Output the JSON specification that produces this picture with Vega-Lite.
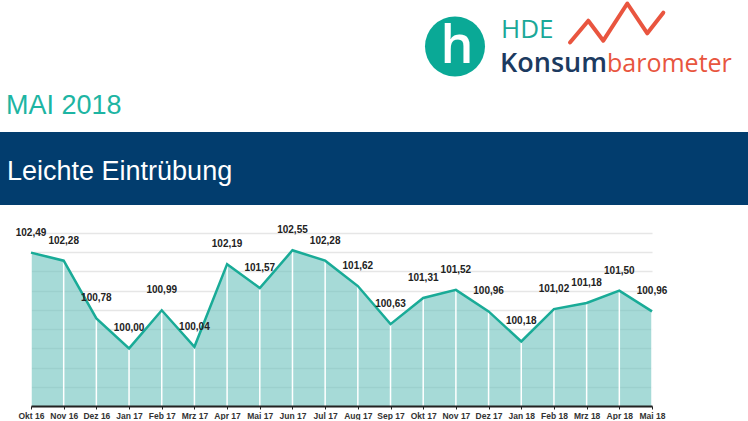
{
  "$schema": "https://vega.github.io/schema/vega-lite/v6.json",
  "padding": 0,
  "background": "white",
  "spacing": 27,
  "bounds": "flush",
  "center": true,
  "config": {
    "view": {"stroke": null},
    "locale": {"number": {"decimal": ",", "thousands": ".", "grouping": [3], "currency": ["", " €"]}}
  },
  "datasets": {
    "werte": [
      {"monat": "Okt 16", "wert": 102.49},
      {"monat": "Nov 16", "wert": 102.28},
      {"monat": "Dez 16", "wert": 100.78},
      {"monat": "Jan 17", "wert": 100.00},
      {"monat": "Feb 17", "wert": 100.99},
      {"monat": "Mrz 17", "wert": 100.04},
      {"monat": "Apr 17", "wert": 102.19},
      {"monat": "Mai 17", "wert": 101.57},
      {"monat": "Jun 17", "wert": 102.55},
      {"monat": "Jul 17", "wert": 102.28},
      {"monat": "Aug 17", "wert": 101.62},
      {"monat": "Sep 17", "wert": 100.63},
      {"monat": "Okt 17", "wert": 101.31},
      {"monat": "Nov 17", "wert": 101.52},
      {"monat": "Dez 17", "wert": 100.96},
      {"monat": "Jan 18", "wert": 100.18},
      {"monat": "Feb 18", "wert": 101.02},
      {"monat": "Mrz 18", "wert": 101.18},
      {"monat": "Apr 18", "wert": 101.50},
      {"monat": "Mai 18", "wert": 100.96}
    ]
  },
  "vconcat": [
    {
      "width": 683,
      "height": 206,
      "layer": [
        {
          "data": {"values": [{"x0": 0, "x1": 748, "y0": 132, "y1": 205}]},
          "mark": {"type": "rect", "color": "#023d6e"},
          "encoding": {
            "x": {"field": "x0", "type": "quantitative", "scale": {"domain": [0, 683], "nice": false, "zero": false}, "axis": null},
            "x2": {"field": "x1"},
            "y": {"field": "y0", "type": "quantitative", "scale": {"domain": [0, 206], "nice": false, "zero": false, "reverse": true}, "axis": null},
            "y2": {"field": "y1"}
          }
        },
        {
          "data": {"values": [{"x": 455, "y": 46.5}]},
          "mark": {"type": "point", "shape": "circle", "filled": true, "size": 3600, "color": "#0aa996", "opacity": 1},
          "encoding": {
            "x": {"field": "x", "type": "quantitative", "scale": {"domain": [0, 683], "nice": false, "zero": false}, "axis": null},
            "y": {"field": "y", "type": "quantitative", "scale": {"domain": [0, 206], "nice": false, "zero": false, "reverse": true}, "axis": null}
          }
        },
        {
          "data": {"values": [{"x": 457, "y": 63, "t": "h"}]},
          "mark": {"type": "text", "font": "Open Sans", "fontWeight": 600, "fontSize": 52, "color": "white", "align": "center", "baseline": "alphabetic"},
          "encoding": {
            "x": {"field": "x", "type": "quantitative", "scale": {"domain": [0, 683], "nice": false, "zero": false}, "axis": null},
            "y": {"field": "y", "type": "quantitative", "scale": {"domain": [0, 206], "nice": false, "zero": false, "reverse": true}, "axis": null},
            "text": {"field": "t"}
          }
        },
        {
          "data": {"values": [{"x": 501, "y": 37.5, "t": "HDE"}]},
          "mark": {"type": "text", "font": "Open Sans", "fontSize": 26, "color": "#1aa898", "align": "left", "baseline": "alphabetic"},
          "encoding": {
            "x": {"field": "x", "type": "quantitative", "scale": {"domain": [0, 683], "nice": false, "zero": false}, "axis": null},
            "y": {"field": "y", "type": "quantitative", "scale": {"domain": [0, 206], "nice": false, "zero": false, "reverse": true}, "axis": null},
            "text": {"field": "t"}
          }
        },
        {
          "data": {"values": [{"x": 607, "y": 71.5, "t": "Konsum"}]},
          "mark": {"type": "text", "font": "Open Sans", "fontWeight": 600, "fontSize": 27, "color": "#1c3a60", "align": "right", "baseline": "alphabetic"},
          "encoding": {
            "x": {"field": "x", "type": "quantitative", "scale": {"domain": [0, 683], "nice": false, "zero": false}, "axis": null},
            "y": {"field": "y", "type": "quantitative", "scale": {"domain": [0, 206], "nice": false, "zero": false, "reverse": true}, "axis": null},
            "text": {"field": "t"}
          }
        },
        {
          "data": {"values": [{"x": 607, "y": 71.5, "t": "barometer"}]},
          "mark": {"type": "text", "font": "Open Sans", "fontSize": 25, "color": "#e8553e", "align": "left", "baseline": "alphabetic"},
          "encoding": {
            "x": {"field": "x", "type": "quantitative", "scale": {"domain": [0, 683], "nice": false, "zero": false}, "axis": null},
            "y": {"field": "y", "type": "quantitative", "scale": {"domain": [0, 206], "nice": false, "zero": false, "reverse": true}, "axis": null},
            "text": {"field": "t"}
          }
        },
        {
          "data": {"values": [
            {"x": 570, "y": 42.5},
            {"x": 588.3, "y": 20.7},
            {"x": 603.3, "y": 40.7},
            {"x": 627.3, "y": 3.5},
            {"x": 647.3, "y": 33.3},
            {"x": 663.3, "y": 12.7}
          ]},
          "mark": {"type": "line", "color": "#e9553f", "strokeWidth": 4, "strokeCap": "round", "strokeJoin": "round"},
          "encoding": {
            "x": {"field": "x", "type": "quantitative", "scale": {"domain": [0, 683], "nice": false, "zero": false}, "axis": null},
            "y": {"field": "y", "type": "quantitative", "scale": {"domain": [0, 206], "nice": false, "zero": false, "reverse": true}, "axis": null}
          }
        },
        {
          "data": {"values": [{"x": 6, "y": 114, "t": "MAI 2018"}]},
          "mark": {"type": "text", "font": "Liberation Sans", "fontSize": 27, "color": "#1db5a3", "align": "left", "baseline": "alphabetic"},
          "encoding": {
            "x": {"field": "x", "type": "quantitative", "scale": {"domain": [0, 683], "nice": false, "zero": false}, "axis": null},
            "y": {"field": "y", "type": "quantitative", "scale": {"domain": [0, 206], "nice": false, "zero": false, "reverse": true}, "axis": null},
            "text": {"field": "t"}
          }
        },
        {
          "data": {"values": [{"x": 7, "y": 180, "t": "Leichte Eintrübung"}]},
          "mark": {"type": "text", "font": "Liberation Sans", "fontSize": 27, "color": "white", "align": "left", "baseline": "alphabetic"},
          "encoding": {
            "x": {"field": "x", "type": "quantitative", "scale": {"domain": [0, 683], "nice": false, "zero": false}, "axis": null},
            "y": {"field": "y", "type": "quantitative", "scale": {"domain": [0, 206], "nice": false, "zero": false, "reverse": true}, "axis": null},
            "text": {"field": "t"}
          }
        }
      ]
    },
    {
      "width": 621,
      "height": 173,
      "data": {"name": "werte"},
      "encoding": {
        "x": {
          "field": "monat", "type": "ordinal", "sort": null,
          "scale": {"type": "point", "padding": 0},
          "axis": {"title": null, "labelAngle": 0, "labelFont": "Liberation Sans", "labelFontWeight": "bold", "labelFontSize": 8.5, "labelColor": "#333", "domainColor": "#222", "domainWidth": 2, "tickColor": "#222", "tickSize": 3, "labelPadding": 2, "grid": false, "zindex": 1}
        },
        "y": {
          "field": "wert", "type": "quantitative",
          "scale": {"domain": [98.5, 103], "nice": false, "zero": false},
          "axis": {"title": null, "labels": false, "ticks": false, "domain": false, "grid": true, "values": [98.5, 99, 99.5, 100, 100.5, 101, 101.5, 102, 102.5, 103], "gridColor": "#e6e6e6", "gridWidth": 1.5}
        }
      },
      "layer": [
        {"mark": {"type": "area", "color": "#6bc1bc", "opacity": 0.6}, "encoding": {"y2": {"datum": 98.5}}},
        {"mark": {"type": "rule", "color": "white", "strokeWidth": 1.5}, "encoding": {"y2": {"datum": 98.5}}},
        {"mark": {"type": "line", "color": "#19ab97", "strokeWidth": 2.5}},
        {
          "mark": {"type": "text", "dy": -20, "font": "Liberation Sans", "fontWeight": "bold", "fontSize": 10, "color": "#222"},
          "encoding": {"text": {"field": "wert", "type": "quantitative", "format": ".2f"}}
        }
      ]
    }
  ]
}
